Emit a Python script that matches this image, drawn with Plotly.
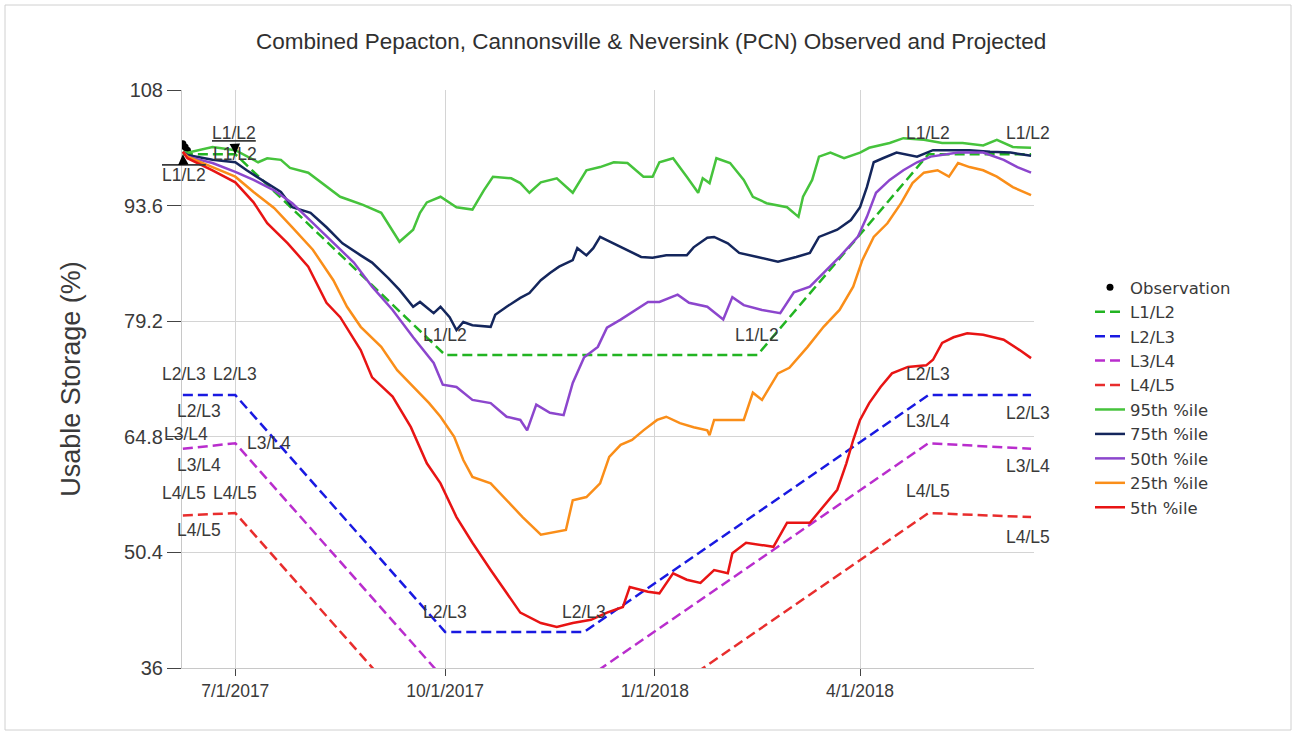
import plotly.graph_objects as go

# ---------------- data ----------------
obs_dates = ["2017-06-08", "2017-06-09", "2017-06-10"]
obs_vals = [101.3, 100.9, 100.5]

rule_dates_12 = ["2017-06-08", "2017-07-01", "2017-10-01", "2018-02-15", "2018-05-01", "2018-06-15"]
rule_vals_12 = [100, 100, 75, 75, 100, 100]
rule_dates = ["2017-06-08", "2017-07-01", "2017-10-01", "2017-12-01", "2018-05-01", "2018-06-15"]
rule_vals_23 = [70, 70, 40.5, 40.5, 70, 70]
rule_vals_34 = [63.3, 64, 34.5, 34.5, 64, 63.3]
rule_vals_45 = [55.0, 55.3, 25.8, 25.8, 55.3, 54.8]

p95_dates = ["2017-06-08", "2017-06-10", "2017-06-21", "2017-07-01", "2017-07-11", "2017-07-15", "2017-07-21",
             "2017-07-25", "2017-08-02", "2017-08-09", "2017-08-16", "2017-08-20", "2017-08-26", "2017-09-03",
             "2017-09-07", "2017-09-11", "2017-09-17", "2017-09-20", "2017-09-23", "2017-09-29", "2017-10-06",
             "2017-10-13", "2017-10-18", "2017-10-22", "2017-10-30", "2017-11-03", "2017-11-07", "2017-11-12",
             "2017-11-19", "2017-11-26", "2017-12-02", "2017-12-08", "2017-12-14", "2017-12-20", "2017-12-27",
             "2017-12-31", "2018-01-03", "2018-01-09", "2018-01-15", "2018-01-20", "2018-01-22", "2018-01-25",
             "2018-01-28", "2018-02-03", "2018-02-09", "2018-02-13", "2018-02-19", "2018-02-28", "2018-03-05",
             "2018-03-07", "2018-03-11", "2018-03-14", "2018-03-19", "2018-03-25", "2018-04-01", "2018-04-05",
             "2018-04-14", "2018-04-20", "2018-04-29", "2018-05-07", "2018-05-16", "2018-05-25", "2018-05-31",
             "2018-06-07", "2018-06-15"]
p95_vals = [100.3, 100.2, 100.9, 100.5, 99.0, 99.5, 99.3,
            98.3, 97.7, 96.2, 94.7, 94.3, 93.7, 92.7,
            90.9, 89.1, 90.6, 92.7, 94.0, 94.7, 93.4,
            93.1, 95.5, 97.2, 97.0, 96.4, 95.2, 96.5,
            97.0, 95.2, 98.0, 98.4, 99.0, 98.9, 97.2,
            97.2, 99.0, 99.5, 97.2, 95.2, 97.0, 96.4,
            99.5, 98.9, 96.8, 94.7, 93.9, 93.4, 92.2,
            94.7, 96.8, 99.7, 100.2, 99.5, 100.2, 100.8,
            101.4, 102.0, 101.8, 101.4, 101.4, 101.1, 101.8,
            100.9, 100.8]

p75_dates = ["2017-06-08", "2017-06-10", "2017-06-21", "2017-07-01", "2017-07-06", "2017-07-15", "2017-07-21",
             "2017-07-26", "2017-08-03", "2017-08-10", "2017-08-17", "2017-08-25", "2017-08-30", "2017-09-06",
             "2017-09-11", "2017-09-17", "2017-09-20", "2017-09-26", "2017-09-29", "2017-10-03", "2017-10-06",
             "2017-10-09", "2017-10-13", "2017-10-21", "2017-10-23", "2017-10-28", "2017-11-03", "2017-11-07",
             "2017-11-12", "2017-11-16", "2017-11-20", "2017-11-26", "2017-11-28", "2017-12-02", "2017-12-05",
             "2017-12-08", "2017-12-14", "2017-12-20", "2017-12-26", "2017-12-31", "2018-01-06", "2018-01-15",
             "2018-01-18", "2018-01-24", "2018-01-27", "2018-02-02", "2018-02-07", "2018-02-15", "2018-02-24",
             "2018-03-04", "2018-03-10", "2018-03-14", "2018-03-22", "2018-03-28", "2018-04-01", "2018-04-04",
             "2018-04-07", "2018-04-11", "2018-04-17", "2018-04-26", "2018-05-03", "2018-05-10", "2018-05-19",
             "2018-05-28", "2018-06-06", "2018-06-15"]
p75_vals = [100.3, 99.9, 99.3, 99.0, 98.0, 96.4, 95.3,
            93.4, 92.7, 90.9, 88.9, 87.4, 86.5, 84.6,
            83.1, 81.0, 81.6, 80.2, 81.0, 79.7, 78.1,
            79.1, 78.7, 78.5, 80.0, 81.0, 82.1, 82.7,
            84.3, 85.2, 86.0, 86.8, 88.3, 87.4, 88.3,
            89.7, 88.9, 88.1, 87.2, 87.1, 87.4, 87.4,
            88.4, 89.6, 89.7, 88.9, 87.7, 87.2, 86.6,
            87.2, 87.7, 89.7, 90.6, 91.8, 93.4, 95.9,
            99.0, 99.5, 100.2, 99.7, 100.5, 100.5, 100.5,
            100.3, 100.2, 99.8]

p50_dates = ["2017-06-08", "2017-06-10", "2017-06-21", "2017-07-01", "2017-07-09", "2017-07-18", "2017-07-26",
             "2017-08-04", "2017-08-13", "2017-08-22", "2017-08-30", "2017-09-08", "2017-09-17", "2017-09-26",
             "2017-09-30", "2017-10-06", "2017-10-13", "2017-10-21", "2017-10-28", "2017-11-03", "2017-11-06",
             "2017-11-10", "2017-11-16", "2017-11-22", "2017-11-26", "2017-12-01", "2017-12-07", "2017-12-11",
             "2017-12-17", "2017-12-22", "2017-12-29", "2018-01-03", "2018-01-11", "2018-01-16", "2018-01-24",
             "2018-01-31", "2018-02-04", "2018-02-09", "2018-02-17", "2018-02-25", "2018-03-03", "2018-03-10",
             "2018-03-16", "2018-03-23", "2018-03-31", "2018-04-04", "2018-04-08", "2018-04-14", "2018-04-20",
             "2018-04-26", "2018-05-02", "2018-05-14", "2018-05-25", "2018-06-03", "2018-06-09", "2018-06-15"]
p50_vals = [100.3, 99.7, 98.9, 97.8, 96.8, 95.5, 93.9,
            91.4, 88.9, 86.5, 83.5, 80.6, 77.2, 74.0,
            71.3, 71.0, 69.4, 69.0, 67.3, 66.9, 65.6,
            68.8, 67.8, 67.5, 71.5, 74.7, 76.0, 78.4,
            79.4, 80.3, 81.6, 81.6, 82.5, 81.5, 81.0,
            79.4, 82.2, 81.2, 80.6, 80.2, 82.8, 83.5,
            85.2, 87.2, 89.7, 92.2, 95.2, 96.8, 98.0,
            99.0, 99.7, 100.2, 100.2, 99.3, 98.4, 97.7]

p25_dates = ["2017-06-08", "2017-06-10", "2017-06-21", "2017-07-01", "2017-07-09", "2017-07-18", "2017-07-26",
             "2017-08-04", "2017-08-13", "2017-08-19", "2017-08-25", "2017-09-03", "2017-09-10", "2017-09-17",
             "2017-09-24", "2017-09-29", "2017-10-05", "2017-10-09", "2017-10-13", "2017-10-21", "2017-10-28",
             "2017-11-04", "2017-11-12", "2017-11-17", "2017-11-23", "2017-11-26", "2017-12-02", "2017-12-08",
             "2017-12-12", "2017-12-17", "2017-12-22", "2017-12-27", "2018-01-02", "2018-01-06", "2018-01-12",
             "2018-01-18", "2018-01-24", "2018-01-25", "2018-01-27", "2018-02-03", "2018-02-09", "2018-02-13",
             "2018-02-17", "2018-02-24", "2018-03-01", "2018-03-09", "2018-03-16", "2018-03-23", "2018-03-29",
             "2018-04-02", "2018-04-07", "2018-04-13", "2018-04-19", "2018-04-24", "2018-04-29", "2018-05-05",
             "2018-05-10", "2018-05-14", "2018-05-19", "2018-05-25", "2018-05-31", "2018-06-07", "2018-06-15"]
p25_vals = [100.3, 99.7, 98.4, 97.2, 95.3, 93.3, 90.9,
            88.1, 84.3, 81.0, 78.5, 76.0, 73.1, 71.0,
            69.0, 67.3, 64.8, 61.9, 59.8, 59.0, 56.9,
            54.8, 52.6, 52.9, 53.2, 56.9, 57.3, 59.0,
            62.3, 63.8, 64.4, 65.6, 66.9, 67.3, 66.5,
            66.0, 65.6, 65.0, 66.9, 66.9, 66.9, 70.3,
            69.4, 72.7, 73.4, 76.0, 78.5, 80.6, 83.5,
            86.8, 89.7, 91.4, 93.9, 96.4, 97.7, 98.0,
            97.2, 98.9, 98.4, 98.0, 97.2, 95.9, 94.9]

p05_dates = ["2017-06-08", "2017-06-10", "2017-06-21", "2017-07-01", "2017-07-09", "2017-07-15", "2017-07-24",
             "2017-08-02", "2017-08-10", "2017-08-16", "2017-08-25", "2017-08-30", "2017-09-08", "2017-09-16",
             "2017-09-23", "2017-09-29", "2017-10-06", "2017-10-13", "2017-10-21", "2017-10-28", "2017-11-03",
             "2017-11-12", "2017-11-19", "2017-11-26", "2017-12-04", "2017-12-11", "2017-12-18", "2017-12-21",
             "2017-12-29", "2018-01-03", "2018-01-09", "2018-01-15", "2018-01-21", "2018-01-27", "2018-02-02",
             "2018-02-04", "2018-02-10", "2018-02-22", "2018-02-28", "2018-03-10", "2018-03-16", "2018-03-22",
             "2018-03-26", "2018-03-29", "2018-04-01", "2018-04-05", "2018-04-10", "2018-04-15", "2018-04-22",
             "2018-04-30", "2018-05-03", "2018-05-07", "2018-05-12", "2018-05-18", "2018-05-25", "2018-06-03",
             "2018-06-10", "2018-06-15"]
p05_vals = [100.3, 99.5, 98.0, 96.5, 94.0, 91.4, 88.9,
            86.0, 81.5, 79.7, 75.6, 72.2, 69.8, 66.0,
            61.5, 59.0, 54.8, 51.6, 48.2, 45.3, 42.9,
            41.6, 41.1, 41.6, 42.0, 42.9, 43.6, 46.1,
            45.5, 45.3, 47.8, 47.0, 46.6, 48.2, 47.8,
            50.3, 51.6, 51.1, 54.1, 54.1, 56.1, 58.2,
            61.5, 64.4, 66.9, 69.0, 71.0, 72.7, 73.5,
            73.7, 74.4, 76.5, 77.2, 77.7, 77.5, 76.9,
            75.6, 74.6]

y_ticks = [36, 50.4, 64.8, 79.2, 93.6, 108]
x_tick_vals = ["2017-07-01", "2017-10-01", "2018-01-01", "2018-04-01"]
x_tick_text = ["7/1/2017", "10/1/2017", "1/1/2018", "4/1/2018"]

# ---------------- style ----------------
FONT = "Liberation Sans"
LEG_FONT = "DejaVu Sans"
TXT = "#3a3a3a"
DASH = "10px,5px"
C_L12 = "rgb(34,180,34)"
C_L23 = "rgb(25,25,225)"
C_L34 = "rgb(185,45,205)"
C_L45 = "rgb(232,45,45)"
C_95 = "rgb(70,195,60)"
C_75 = "rgb(20,38,92)"
C_50 = "rgb(140,70,205)"
C_25 = "rgb(250,142,25)"
C_05 = "rgb(232,20,20)"

W, H = 1297, 736
ML, MR, MT, MB = 182, 263, 90, 68

fig = go.Figure()
fig.add_trace(go.Scatter(x=obs_dates, y=obs_vals, mode="markers", name="Observation",
                         marker=dict(color="black", size=7)))
fig.add_trace(go.Scatter(x=rule_dates_12, y=rule_vals_12, mode="lines", name="L1/L2",
                         line=dict(color=C_L12, width=2.5, dash=DASH)))
fig.add_trace(go.Scatter(x=rule_dates, y=rule_vals_23, mode="lines", name="L2/L3",
                         line=dict(color=C_L23, width=2.5, dash=DASH)))
fig.add_trace(go.Scatter(x=rule_dates, y=rule_vals_34, mode="lines", name="L3/L4",
                         line=dict(color=C_L34, width=2.5, dash=DASH)))
fig.add_trace(go.Scatter(x=rule_dates, y=rule_vals_45, mode="lines", name="L4/L5",
                         line=dict(color=C_L45, width=2.5, dash=DASH)))
fig.add_trace(go.Scatter(x=p95_dates, y=p95_vals, mode="lines", name="95th %ile",
                         line=dict(color=C_95, width=2.5)))
fig.add_trace(go.Scatter(x=p75_dates, y=p75_vals, mode="lines", name="75th %ile",
                         line=dict(color=C_75, width=2.5)))
fig.add_trace(go.Scatter(x=p50_dates, y=p50_vals, mode="lines", name="50th %ile",
                         line=dict(color=C_50, width=2.5)))
fig.add_trace(go.Scatter(x=p25_dates, y=p25_vals, mode="lines", name="25th %ile",
                         line=dict(color=C_25, width=2.5)))
fig.add_trace(go.Scatter(x=p05_dates, y=p05_vals, mode="lines", name="5th %ile",
                         line=dict(color=C_05, width=2.5)))

# data labels on the rule-curve break points: (label, dates, values, index, xshift, yshift)
label_specs = [
    ("L1/L2", rule_dates_12, rule_vals_12, 1, 0, 0),
    ("L1/L2", rule_dates_12, rule_vals_12, 2, 0, 20),
    ("L1/L2", rule_dates_12, rule_vals_12, 3, 0, 20),
    ("L1/L2", rule_dates_12, rule_vals_12, 4, 0, 21),
    ("L1/L2", rule_dates_12, rule_vals_12, 5, -3, 21),
    ("L2/L3", rule_dates, rule_vals_23, 0, 1, 21),
    ("L2/L3", rule_dates, rule_vals_23, 1, 0, 21),
    ("L2/L3", rule_dates, rule_vals_23, 0, 16, -16),
    ("L2/L3", rule_dates, rule_vals_23, 2, 0, 20),
    ("L2/L3", rule_dates, rule_vals_23, 3, 0, 20),
    ("L2/L3", rule_dates, rule_vals_23, 4, 0, 21),
    ("L2/L3", rule_dates, rule_vals_23, 5, -3, -18),
    ("L3/L4", rule_dates, rule_vals_34, 0, 3, 15),
    ("L3/L4", rule_dates, rule_vals_34, 0, 16, -16),
    ("L3/L4", rule_dates, rule_vals_34, 1, 34, 0),
    ("L3/L4", rule_dates, rule_vals_34, 4, 0, 22),
    ("L3/L4", rule_dates, rule_vals_34, 5, -3, -17),
    ("L4/L5", rule_dates, rule_vals_45, 0, 1, 22),
    ("L4/L5", rule_dates, rule_vals_45, 1, 0, 20),
    ("L4/L5", rule_dates, rule_vals_45, 0, 16, -15),
    ("L4/L5", rule_dates, rule_vals_45, 4, 0, 22),
    ("L4/L5", rule_dates, rule_vals_45, 5, -3, -20),
]
LBL_FONT = dict(family=FONT, size=17.5, color=TXT)
annotations = []
for text, ds, vs, i, xs, ys in label_specs:
    annotations.append(dict(x=ds[i], y=vs[i], xref="x", yref="y", text=text, showarrow=False,
                            xshift=xs, yshift=ys, font=LBL_FONT))
# callout labels with leader arrows at the first break points of L1/L2
annotations.append(dict(x=rule_dates_12[0], y=rule_vals_12[0], xref="x", yref="y",
                        text='<span style="text-decoration:overline">L1/L2</span>',
                        showarrow=True, ax=1, ay=21, arrowhead=2, arrowsize=1.4, arrowwidth=1.5,
                        arrowcolor="black", font=LBL_FONT))
annotations.append(dict(x=rule_dates_12[1], y=rule_vals_12[1], xref="x", yref="y",
                        text="<u>L1/L2</u>",
                        showarrow=True, ax=-1, ay=-21, arrowhead=2, arrowsize=1.4, arrowwidth=1.5,
                        arrowcolor="black", font=LBL_FONT))

# outer frame of the chart image
pw = W - ML - MR
ph = H - MT - MB
frame = dict(type="rect", xref="paper", yref="paper",
             x0=(5 - ML) / pw, x1=(1291 - ML) / pw, y0=(H - MB - 730) / ph, y1=(H - MB - 5) / ph,
             line=dict(color="#d0d0d0", width=1), fillcolor="rgba(0,0,0,0)", layer="below")

fig.update_layout(
    width=W, height=H,
    margin=dict(l=ML, r=MR, t=MT, b=MB),
    paper_bgcolor="white", plot_bgcolor="white",
    font=dict(family=FONT, size=17, color=TXT),
    title=dict(text="Combined Pepacton, Cannonsville & Neversink (PCN) Observed and Projected",
               x=0.502, xref="container", xanchor="center", y=1 - 41 / H, yref="container",
               yanchor="middle", font=dict(family=FONT, size=22.5, color="#303030")),
    showlegend=True,
    legend=dict(x=(1090 - ML) / pw, xanchor="left", y=(H - MB - 270) / ph, yanchor="top",
                font=dict(family=LEG_FONT, size=16.5, color=TXT), bgcolor="rgba(0,0,0,0)",
                tracegroupgap=0, itemwidth=30),
    annotations=annotations,
    shapes=[frame],
)
fig.update_xaxes(type="date", range=["2017-06-07 15:00", "2018-06-16 07:00"],
                 tickvals=x_tick_vals, ticktext=x_tick_text,
                 showgrid=True, gridcolor="#d4d4d4", gridwidth=1,
                 showline=True, linecolor="#c8c8c8", linewidth=1,
                 ticks="outside", ticklen=7, tickcolor="#444", tickwidth=1,
                 tickfont=dict(family=FONT, size=17.5, color=TXT), zeroline=False)
fig.update_yaxes(range=[36, 108], tickvals=y_ticks, ticktext=[f"{v:g}" for v in y_ticks],
                 showgrid=True, gridcolor="#d4d4d4", gridwidth=1,
                 showline=True, linecolor="#c8c8c8", linewidth=1,
                 ticks="outside", ticklen=14, tickcolor="#444", tickwidth=1,
                 tickfont=dict(family=FONT, size=20, color=TXT), zeroline=False,
                 title=dict(text="Usable Storage (%)", font=dict(family=FONT, size=27, color=TXT),
                            standoff=35))

fig.write_html("out.html", config={"displayModeBar": False},
               post_script="document.body.style.margin='0px';")
